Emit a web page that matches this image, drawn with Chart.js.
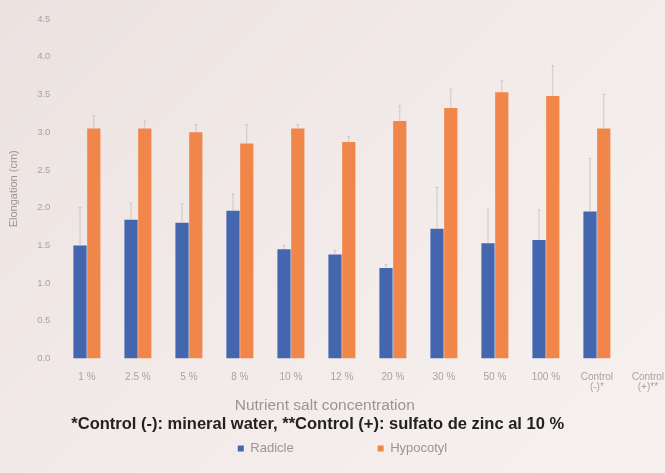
<!DOCTYPE html>
<html>
<head>
<meta charset="utf-8">
<script src="https://cdn.jsdelivr.net/npm/chart.js@4/dist/chart.umd.min.js"></script>
<style>
  html, body { margin: 0; padding: 0; overflow: hidden; }
  body { width: 665px; height: 473px; background: linear-gradient(135deg, #ece3e1 0%, #f2eae8 45%, #f6f1ef 100%); }
  #wrap { position: relative; width: 665px; height: 473px; overflow: hidden; }
</style>
</head>
<body>
<div id="wrap"><canvas id="c" width="678" height="473"></canvas></div>
<script>
const categories = ['1 %', '2.5 %', '5 %', '8 %', '10 %', '12 %', '20 %', '30 %', '50 %', '100 %', ['Control', '(-)*'], ['Control', '(+)**']];
const radicle = [1.50, 1.84, 1.80, 1.96, 1.45, 1.38, 1.20, 1.72, 1.53, 1.57, 1.95, 0];
const hypocotyl = [3.05, 3.05, 3.00, 2.85, 3.05, 2.87, 3.15, 3.32, 3.53, 3.48, 3.05, 0];
const radicleErr = [0.50, 0.22, 0.25, 0.22, 0.05, 0.05, 0.05, 0.55, 0.45, 0.40, 0.70, 0];
const hypocotylErr = [0.17, 0.10, 0.10, 0.25, 0.05, 0.07, 0.20, 0.25, 0.15, 0.40, 0.45, 0];
const yTicks = [0, 0.5, 1.0, 1.5, 2.0, 2.5, 3.0, 3.5, 4.0, 4.5];

const errorBars = {
  id: 'errorBars',
  afterDatasetsDraw(chart) {
    const ctx = chart.ctx;
    const y = chart.scales.y;
    chart.data.datasets.forEach((ds, di) => {
      const meta = chart.getDatasetMeta(di);
      meta.data.forEach((bar, i) => {
        const v = ds.data[i];
        const e = ds.errors[i];
        if (!v || !e) return;
        const x = bar.x;
        const yTop = y.getPixelForValue(v + e);
        const yBase = y.getPixelForValue(v);
        ctx.save();
        ctx.strokeStyle = 'rgba(200,196,196,0.9)';
        ctx.lineWidth = 1;
        ctx.beginPath();
        ctx.moveTo(x, yBase);
        ctx.lineTo(x, yTop);
        ctx.moveTo(x - 1.5, yTop);
        ctx.lineTo(x + 1.5, yTop);
        ctx.stroke();
        ctx.restore();
      });
    });
  }
};

const legendGap = '\u2003\u2003\u2003\u2003\u2003\u2003';
const xTitlePad = '\u2003\u2003\u2003\u2003\u2003\u2002';
const noteGap = '\u2003\u2003\u2003';

new Chart(document.getElementById('c'), {
  type: 'bar',
  data: {
    labels: categories,
    datasets: [
      { label: 'Radicle', data: radicle, errors: radicleErr, backgroundColor: '#4366ae', categoryPercentage: 0.54, barPercentage: 0.96 },
      { label: 'Hypocotyl', data: hypocotyl, errors: hypocotylErr, backgroundColor: '#f0864a', categoryPercentage: 0.54, barPercentage: 0.96 }
    ]
  },
  options: {
    responsive: false,
    animation: false,
    layout: { padding: { left: 7, right: 0, top: 19, bottom: 8 } },
    plugins: {
      legend: {
        position: 'bottom',
        labels: {
          boxWidth: 6, boxHeight: 6, color: '#9a9494', font: { family: 'Liberation Sans', size: 13 }, padding: 6,
          generateLabels(chart) {
            const items = Chart.defaults.plugins.legend.labels.generateLabels(chart);
            if (items.length) items[0].text = items[0].text + legendGap;
            return items;
          }
        },
        title: {
          display: true,
          text: '*Control (-): mineral water, **Control (+): sulfato de zinc al 10 %' + noteGap,
          color: '#222',
          font: { family: 'Liberation Sans', size: 16.5, weight: 'bold' },
          padding: { top: 0, bottom: 0 }
        }
      },
      tooltip: { enabled: false }
    },
    scales: {
      x: {
        grid: { display: false, drawTicks: false },
        border: { display: false },
        ticks: { color: '#a8a2a2', font: { family: 'Liberation Sans', size: 10, lineHeight: 1.0 }, maxRotation: 0, autoSkip: false, padding: 14 },
        title: { display: true, text: 'Nutrient salt concentration' + xTitlePad, color: '#9a9494', font: { family: 'Liberation Sans', size: 15.5 }, padding: { top: -10, bottom: 1 } }
      },
      y: {
        min: 0, max: 4.5,
        afterBuildTicks(axis) { axis.ticks = yTicks.map(v => ({ value: v })); },
        grid: { display: false, drawTicks: false },
        border: { display: false },
        ticks: { color: '#a8a2a2', font: { family: 'Liberation Sans', size: 9.5 }, padding: 11, callback: v => Number(v).toFixed(1) },
        title: { display: true, text: 'Elongation (cm)', color: '#9a9494', font: { family: 'Liberation Sans', size: 11 }, padding: { top: 0, bottom: 6 } }
      }
    }
  },
  plugins: [errorBars]
});
</script>
</body>
</html>
